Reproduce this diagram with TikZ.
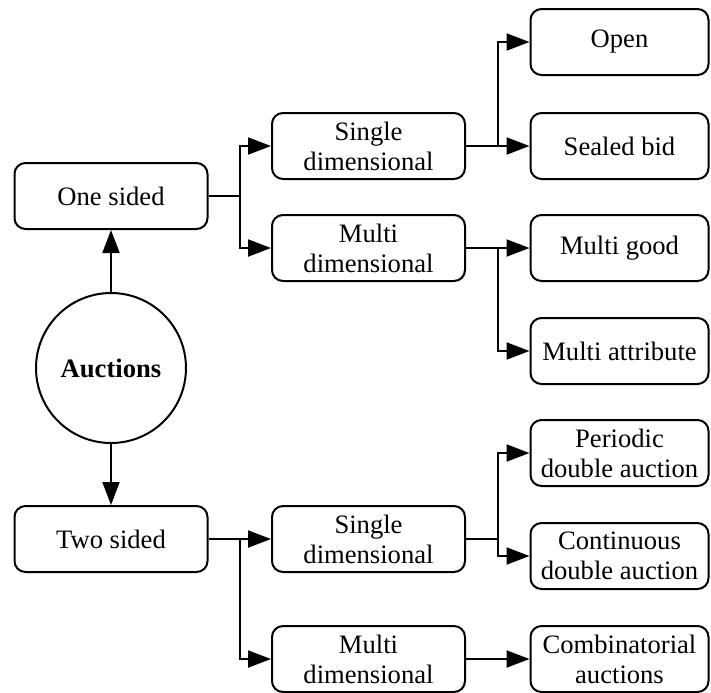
\documentclass[tikz,border=0pt]{standalone}
\usepackage{fontspec}
\setmainfont{Liberation Serif}
\usetikzlibrary{arrows.meta}
\begin{document}
\begin{tikzpicture}[x=0.5pt,y=-0.5pt,
  box/.style={draw,line width=1pt,rounded corners=5.5pt,minimum width=96.5pt,minimum height=33pt,inner sep=0pt,align=center,font=\fontsize{13.3}{15}\selectfont},
  rbox/.style={box,minimum width=89pt},
  conn/.style={line width=1pt},
  arr/.style={conn,-{Triangle[length=11.5pt,width=8.5pt]}}]
\useasboundingbox (0,0) rectangle (711,692);
\node[draw,circle,line width=1pt,minimum size=75pt,inner sep=0pt,font=\fontsize{13.3}{15}\selectfont\bfseries] (auc) at (111,368) {Auctions};
\node[box] (one) at (111,196) {One sided};
\node[box] (two) at (111,539) {Two sided};
\node[box] (s1) at (368.5,146) {Single\\dimensional};
\node[box] (m1) at (368.5,248) {Multi\\dimensional};
\node[box] (s2) at (368.5,539) {Single\\dimensional};
\node[box] (m2) at (368.5,659) {Multi\\dimensional};
\node[rbox] (open) at (619.5,42) {Open};
\node[rbox] (sealed) at (619.5,146) {Sealed bid};
\node[rbox] (mgood) at (619.5,248) {Multi good};
\node[rbox] (mattr) at (619.5,351) {Multi attribute};
\node[rbox] (per) at (619.5,453) {Periodic\\double auction};
\node[rbox] (cont) at (619.5,556) {Continuous\\double auction};
\node[rbox] (comb) at (619.5,659) {Combinatorial\\auctions};
\coordinate (j1) at (240,196);
\coordinate (j2) at (240,539);
\coordinate (j3) at (498,146);
\coordinate (j4) at (498,248);
\coordinate (j5) at (498,539);
\draw[arr] (auc) -- (one);
\draw[arr] (auc) -- (two);
\draw[conn] (one.east) -- (j1);
\draw[arr] (j1) |- (s1.west);
\draw[arr] (j1) |- (m1.west);
\draw[conn] (two.east) -- (j2);
\draw[arr] (j2) -- (s2.west);
\draw[arr] (j2) |- (m2.west);
\draw[conn] (s1.east) -- (j3);
\draw[arr] (j3) |- (open.west);
\draw[arr] (j3) -- (sealed.west);
\draw[conn] (m1.east) -- (j4);
\draw[arr] (j4) -- (mgood.west);
\draw[arr] (j4) |- (mattr.west);
\draw[conn] (s2.east) -- (j5);
\draw[arr] (j5) |- (per.west);
\draw[arr] (j5) |- (cont.west);
\draw[arr] (m2) -- (comb);
\end{tikzpicture}
\end{document}
